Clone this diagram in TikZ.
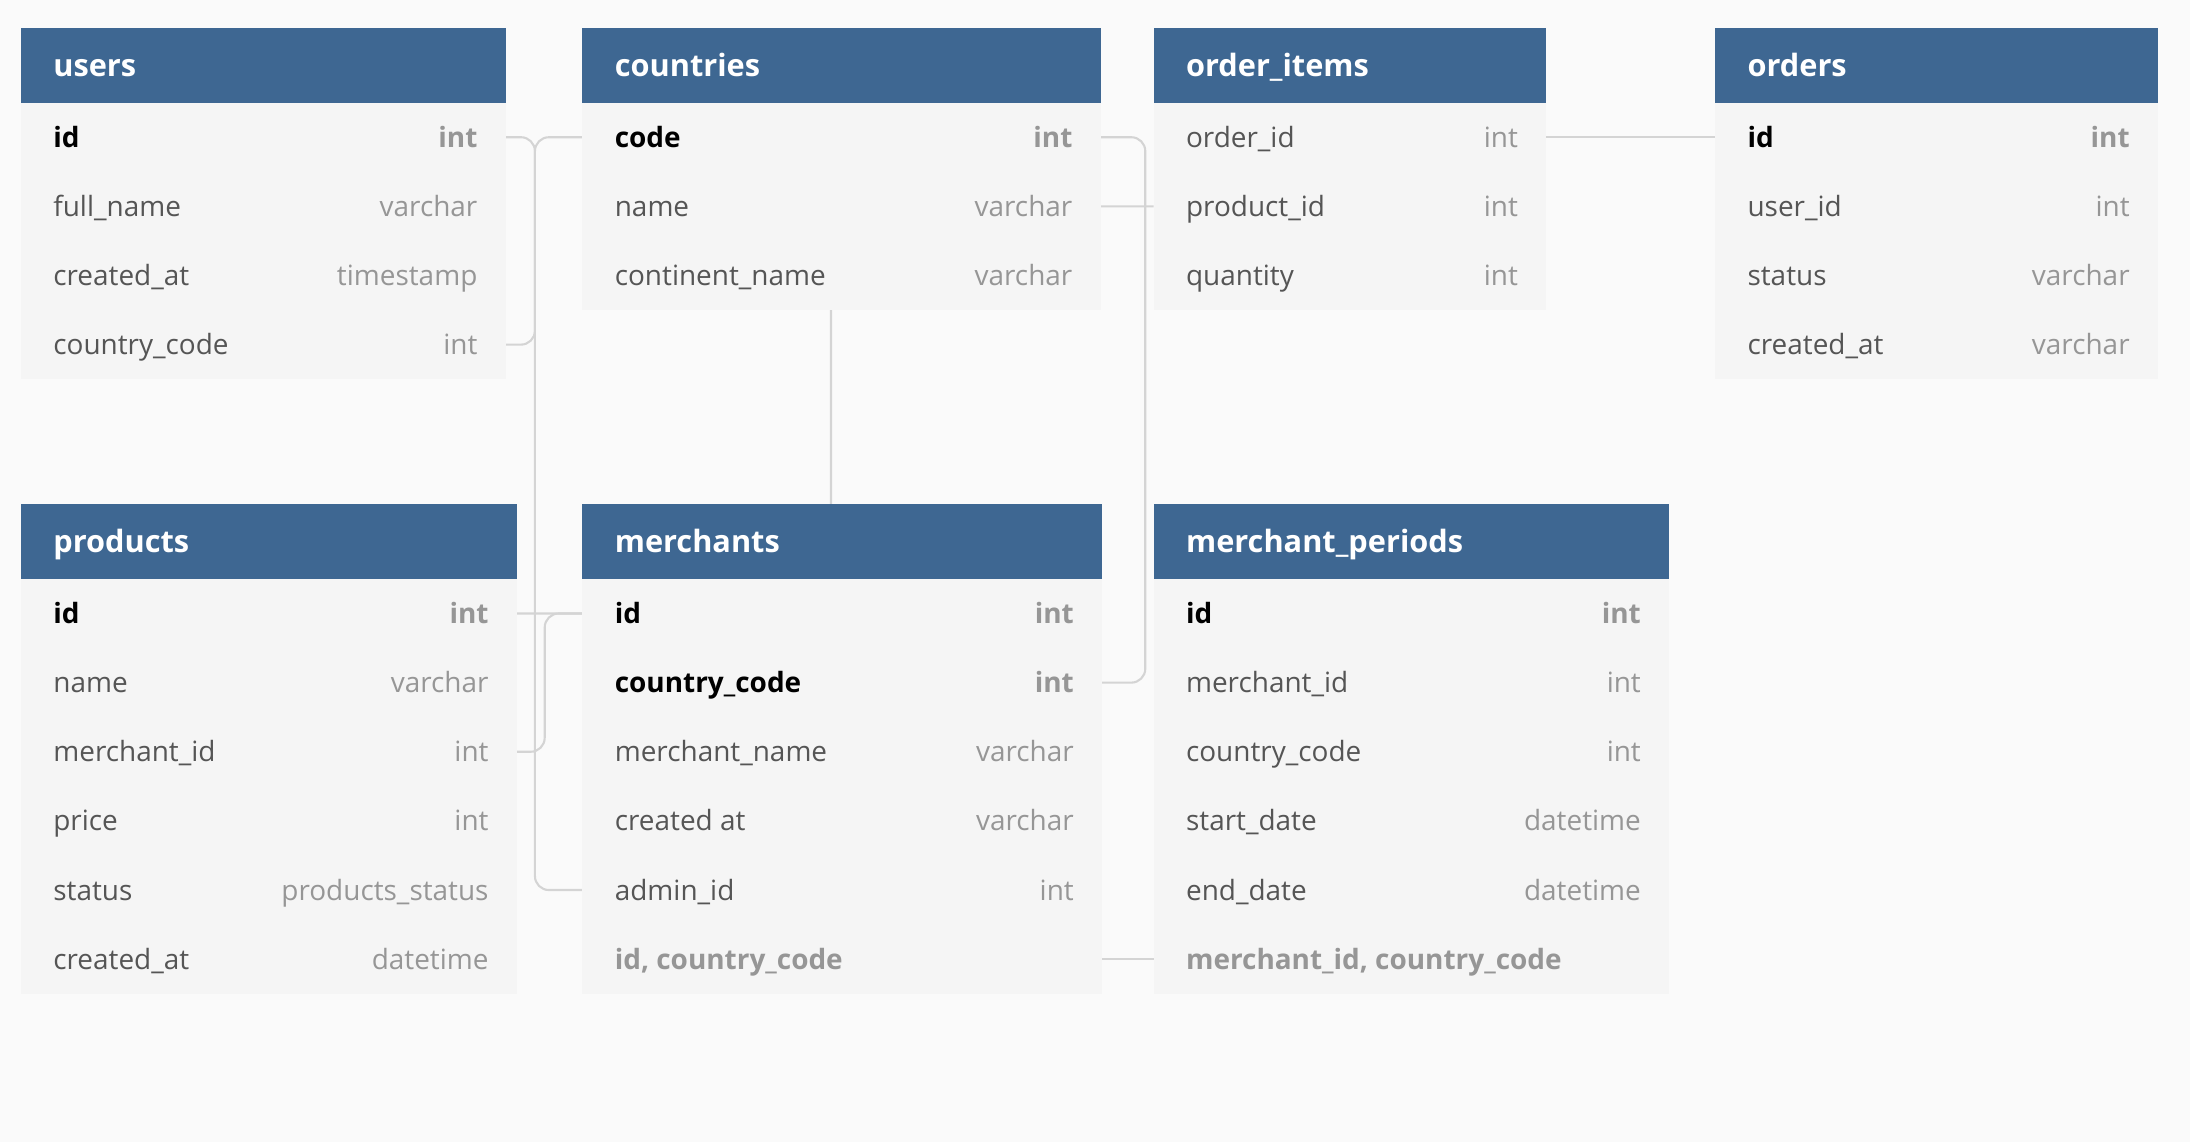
\documentclass[tikz,border=0pt]{standalone}
\usepackage{fontspec}
\setmainfont{Open Sans}
\usetikzlibrary{calc}
\definecolor{hdrblue}{RGB}{62,103,146}
\definecolor{bodybg}{RGB}{245,245,245}
\definecolor{pagebg}{RGB}{250,250,250}
\definecolor{fieldc}{RGB}{85,85,85}
\definecolor{typec}{RGB}{150,150,150}
\definecolor{linec}{RGB}{212,212,212}
\pgfdeclarelayer{bglayer}
\pgfdeclarelayer{linelayer}
\pgfsetlayers{bglayer,linelayer,main}
\tikzset{
 hdr/.style={fill=hdrblue, draw=none, minimum height=53.5pt, inner sep=0pt, outer sep=0pt},
 hdrtxt/.style={text=white, font=\fontsize{22}{26}\selectfont\bfseries, inner sep=0pt, text height=15.5pt, text depth=0pt},
 rowbox/.style={fill=bodybg, draw=none, minimum height=49.5pt, inner sep=0pt, outer sep=0pt},
 fld/.style={text=fieldc, font=\fontsize{20}{24}\selectfont, inner sep=0pt, text height=14.3pt, text depth=0pt},
 keyfld/.style={text=black, font=\fontsize{20}{24}\selectfont\bfseries, inner sep=0pt, text height=14.3pt, text depth=0pt},
 typ/.style={text=typec, font=\fontsize{20}{24}\selectfont, inner sep=0pt, text height=14.3pt, text depth=0pt},
 keytyp/.style={text=typec, font=\fontsize{20}{24}\selectfont\bfseries, inner sep=0pt, text height=14.3pt, text depth=0pt},
 idxfld/.style={text=typec, font=\fontsize{20}{24}\selectfont\bfseries, inner sep=0pt, text height=14.3pt, text depth=0pt},
 conn/.style={draw=linec, line width=1.5pt, rounded corners=10pt},
}
\newcommand{\tblhead}[5]{%
 \node[hdr, minimum width=#4pt, anchor=north west] (#1) at (#2,-#3) {};
 \node[hdrtxt, anchor=west] (#1-t) at ([xshift=23pt]#1.west) {#5};}
\newcommand{\tblrow}[8]{%
 \node[rowbox, minimum width=#4pt, anchor=north west] (#1) at (#2,-#3) {};
 \node[#6, anchor=west] (#1-f) at ([xshift=23pt]#1.west) {#5};
 \node[#8, anchor=east] (#1-y) at ([xshift=-20pt]#1.east) {#7};}
\begin{document}
\begin{tikzpicture}[x=1pt,y=1pt]
\begin{pgfonlayer}{bglayer}
\fill[pagebg] (0,0) rectangle (1568,-818);
\end{pgfonlayer}
\useasboundingbox (0,0) rectangle (1568,-818);

% users
\tblhead{users}{15}{20}{347}{users}
\tblrow{users-id}{15}{73.5}{347}{id}{keyfld}{int}{keytyp}
\tblrow{users-fn}{15}{123}{347}{full\_name}{fld}{varchar}{typ}
\tblrow{users-ca}{15}{172.5}{347}{created\_at}{fld}{timestamp}{typ}
\tblrow{users-cc}{15}{222}{347}{country\_code}{fld}{int}{typ}

% countries
\tblhead{countries}{417}{20}{371}{countries}
\tblrow{countries-code}{417}{73.5}{371}{code}{keyfld}{int}{keytyp}
\tblrow{countries-name}{417}{123}{371}{name}{fld}{varchar}{typ}
\tblrow{countries-cn}{417}{172.5}{371}{continent\_name}{fld}{varchar}{typ}

% order_items
\tblhead{oi}{826}{20}{281}{order\_items}
\tblrow{oi-oid}{826}{73.5}{281}{order\_id}{fld}{int}{typ}
\tblrow{oi-pid}{826}{123}{281}{product\_id}{fld}{int}{typ}
\tblrow{oi-qty}{826}{172.5}{281}{quantity}{fld}{int}{typ}

% orders
\tblhead{orders}{1228}{20}{317}{orders}
\tblrow{orders-id}{1228}{73.5}{317}{id}{keyfld}{int}{keytyp}
\tblrow{orders-uid}{1228}{123}{317}{user\_id}{fld}{int}{typ}
\tblrow{orders-st}{1228}{172.5}{317}{status}{fld}{varchar}{typ}
\tblrow{orders-ca}{1228}{222}{317}{created\_at}{fld}{varchar}{typ}

% products
\tblhead{products}{15}{361}{355}{products}
\tblrow{products-id}{15}{414.5}{355}{id}{keyfld}{int}{keytyp}
\tblrow{products-name}{15}{464}{355}{name}{fld}{varchar}{typ}
\tblrow{products-mid}{15}{513.5}{355}{merchant\_id}{fld}{int}{typ}
\tblrow{products-price}{15}{563}{355}{price}{fld}{int}{typ}
\tblrow{products-st}{15}{612.5}{355}{status}{fld}{products\_status}{typ}
\tblrow{products-ca}{15}{662}{355}{created\_at}{fld}{datetime}{typ}

% merchants
\tblhead{merchants}{417}{361}{372}{merchants}
\tblrow{merchants-id}{417}{414.5}{372}{id}{keyfld}{int}{keytyp}
\tblrow{merchants-cc}{417}{464}{372}{country\_code}{keyfld}{int}{keytyp}
\tblrow{merchants-mn}{417}{513.5}{372}{merchant\_name}{fld}{varchar}{typ}
\tblrow{merchants-ca}{417}{563}{372}{created at}{fld}{varchar}{typ}
\tblrow{merchants-admin}{417}{612.5}{372}{admin\_id}{fld}{int}{typ}
\tblrow{merchants-idx}{417}{662}{372}{id, country\_code}{idxfld}{}{typ}

% merchant_periods
\tblhead{mp}{826}{361}{369}{merchant\_periods}
\tblrow{mp-id}{826}{414.5}{369}{id}{keyfld}{int}{keytyp}
\tblrow{mp-mid}{826}{464}{369}{merchant\_id}{fld}{int}{typ}
\tblrow{mp-cc}{826}{513.5}{369}{country\_code}{fld}{int}{typ}
\tblrow{mp-sd}{826}{563}{369}{start\_date}{fld}{datetime}{typ}
\tblrow{mp-ed}{826}{612.5}{369}{end\_date}{fld}{datetime}{typ}
\tblrow{mp-idx}{826}{662}{369}{merchant\_id, country\_code}{idxfld}{}{typ}

\coordinate (bend1) at (595,-300);

\begin{pgfonlayer}{linelayer}
\draw[conn] (users-cc.east) -- ([xshift=21pt]users-cc.east) |- (countries-code.west);
\draw[conn] (users-id.east) -- ([xshift=21pt]users-id.east) |- (merchants-admin.west);
\draw[conn] (products-mid.east) -- ([xshift=20pt]products-mid.east) |- (merchants-id.west);
\draw[conn] (oi-pid.west) -| (bend1) |- (products-id.east);
\draw[conn] (countries-code.east) -- ([xshift=32pt]countries-code.east) |- (merchants-cc.east);
\draw[conn] (oi-oid.east) -- (orders-id.west);
\draw[conn] (merchants-idx.east) -- (mp-idx.west);
\end{pgfonlayer}
\end{tikzpicture}
\end{document}
